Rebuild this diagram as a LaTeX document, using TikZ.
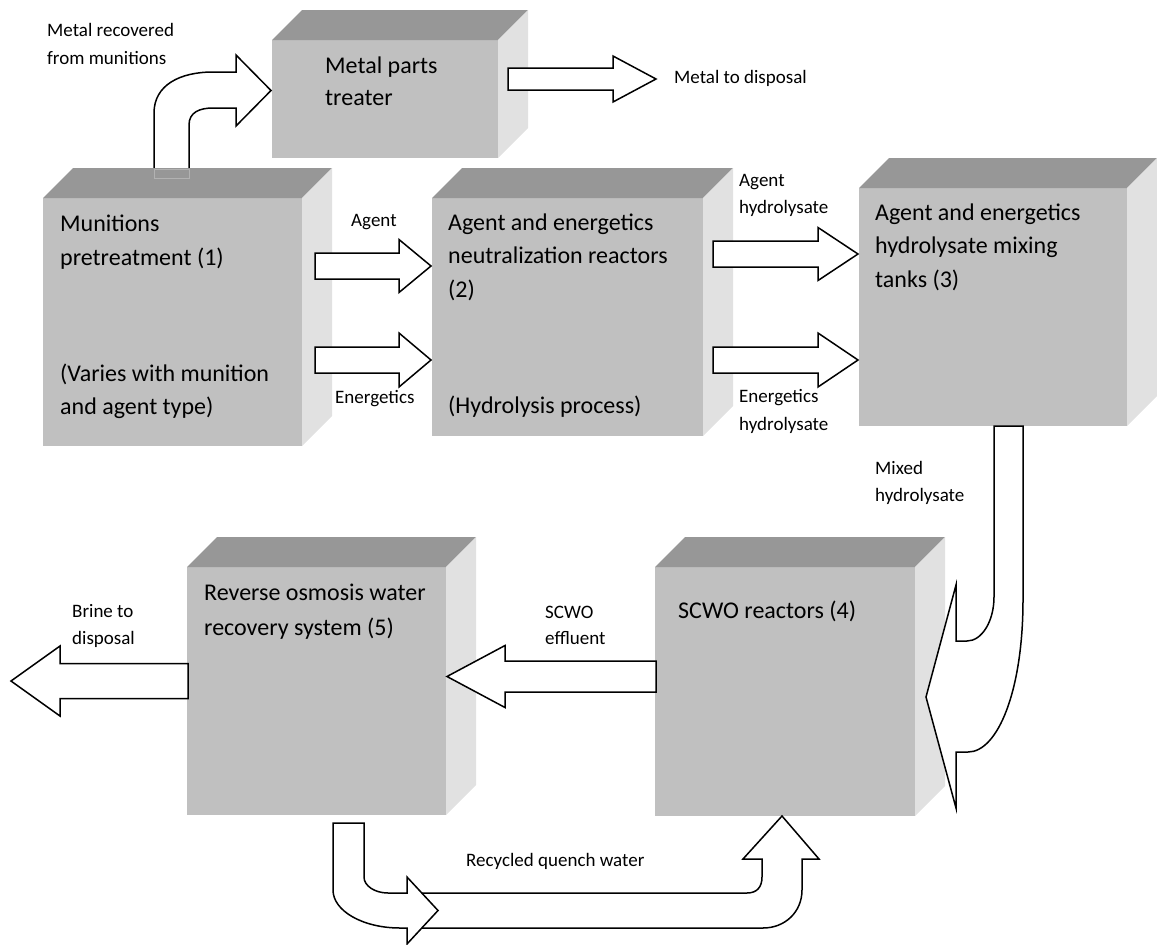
\documentclass[tikz,border=0pt]{standalone}
\usepackage{fontspec}
\setmainfont{Carlito}
\definecolor{frontgray}{HTML}{C0C0C0}
\definecolor{topgray}{HTML}{979797}
\definecolor{sidegray}{HTML}{E1E1E1}
\tikzset{
  front/.style={fill=frontgray, inner sep=0pt, outer sep=0pt, anchor=north west},
  topface/.style={fill=topgray},
  sideface/.style={fill=sidegray},
  barrow/.style={draw=black, fill=white, line width=1.5pt, line join=miter},
  lbl/.style={font=\fontsize{19}{23}\selectfont, anchor=west, inner sep=0pt, text height=13pt, text depth=5pt},
  boxtxt/.style={font=\fontsize{24}{30}\selectfont, anchor=west, inner sep=0pt, text height=17pt, text depth=6pt}
}
\newcommand\cubefaces[1]{%
  \fill[topface] (#1.north west) -- ++(30,-30) -- ([shift={(30,-30)}]#1.north east) -- (#1.north east) -- cycle;
  \fill[sideface] (#1.north east) -- ++(30,-30) -- ([shift={(30,-30)}]#1.south east) -- (#1.south east) -- cycle;
}
\newcommand\blockarrow[6]{% xs, xb, xt, yc, half shaft, half head
  \draw[barrow] (#1,#4-#5) -- (#2,#4-#5) -- (#2,#4-#6) -- (#3,#4) -- (#2,#4+#6) -- (#2,#4+#5) -- (#1,#4+#5) -- cycle;
}
\begin{document}
\begin{tikzpicture}[x=1pt,y=-1pt]
\useasboundingbox (0,0) rectangle (1157,945);

% Metal parts treater
\node[front, minimum width=226pt, minimum height=118pt] (b0) at (272,40) {};
\cubefaces{b0}

% bent arrow: metal recovered from munitions
\draw[barrow] (154,180) -- (154,113) .. controls (154,85) and (180,72) .. (213,72) -- (236,72) -- (236,55) -- (271,90.5) -- (236,126) -- (236,108) -- (213,108) .. controls (200,108) and (189,112) .. (189,125) -- (189,180) -- cycle;

% Munitions pretreatment
\node[front, minimum width=259pt, minimum height=248pt] (b1) at (43,198) {};
\cubefaces{b1}
\draw[gray!60, line width=0.6pt] (154,169) rectangle (189,178);

% Neutralization reactors
\node[front, minimum width=271pt, minimum height=238pt] (b2) at (432,198) {};
\cubefaces{b2}

% Mixing tanks
\node[front, minimum width=268pt, minimum height=238pt] (b3) at (859,188) {};
\cubefaces{b3}

% SCWO reactors
\node[front, minimum width=260pt, minimum height=249pt] (b4) at (655,567) {};
\cubefaces{b4}

% Reverse osmosis
\node[front, minimum width=259pt, minimum height=248pt] (b5) at (187,567) {};
\cubefaces{b5}

% box texts
\node[boxtxt] (t0a) at (325,68) {Metal parts};
\node[boxtxt] (t0b) at (325,100) {treater};
\node[boxtxt] (t1a) at (60,226) {Munitions};
\node[boxtxt] (t1b) at (60,260) {pretreatment (1)};
\node[boxtxt] (t1c) at (60,376) {(Varies with munition};
\node[boxtxt] (t1d) at (60,409) {and agent type)};
\node[boxtxt] (t2a) at (448,225) {Agent and energetics};
\node[boxtxt] (t2b) at (448,258) {neutralization reactors};
\node[boxtxt] (t2c) at (448,292) {(2)};
\node[boxtxt] (t2d) at (448,408) {(Hydrolysis process)};
\node[boxtxt] (t3a) at (875,215) {Agent and energetics};
\node[boxtxt] (t3b) at (875,248) {hydrolysate mixing};
\node[boxtxt] (t3c) at (875,282) {tanks (3)};
\node[boxtxt] (t4a) at (678,613) {SCWO reactors (4)};
\node[boxtxt] (t5a) at (204,595) {Reverse osmosis water};
\node[boxtxt] (t5b) at (204,630) {recovery system (5)};

% straight block arrows
\blockarrow{508}{613}{656}{79}{11}{23}
\blockarrow{315}{399}{431}{266}{13}{26.5}
\blockarrow{315}{399}{431}{360}{13}{27}
\blockarrow{713}{818}{858}{254}{13}{26.5}
\blockarrow{713}{818}{858}{360}{13}{27}
\blockarrow{656}{505}{447}{676.5}{15.5}{31}
\blockarrow{188}{60}{11}{681}{17.5}{35}

% mixed hydrolysate bent arrow
\draw[barrow] (994,426) -- (994,597) .. controls (994,621) and (982,641) .. (967,641) -- (956,641) -- (956,585) -- (926,697) -- (956,808) -- (956,752) -- (968,752) .. controls (998,752) and (1023,690) .. (1023,600) -- (1023,426) -- cycle;

% recycled quench water U arrow (right then up)
\fill[white] (415,893) -- (747,893) .. controls (757,893) and (762,887) .. (762,877) -- (762,859) -- (743,859) -- (782,816) -- (819,859) -- (802,859) -- (802,890) .. controls (802,912) and (785,928) .. (763,928) -- (415,928) -- cycle;
\draw[barrow, fill=none] (415,893) -- (747,893) .. controls (757,893) and (762,887) .. (762,877) -- (762,859) -- (743,859) -- (782,816) -- (819,859) -- (802,859) -- (802,890) .. controls (802,912) and (785,928) .. (763,928) -- (415,928);

% down then right arrow from reverse osmosis
\draw[barrow] (333,823) -- (364,823) -- (364,877) .. controls (364,886) and (375,893) .. (388,893) -- (407,893) -- (407,877) -- (438,910.5) -- (407,944) -- (407,928) -- (400,928) .. controls (363,928) and (333,911) .. (333,890) -- cycle;

% labels
\node[lbl] (l1) at (47,32) {Metal recovered};
\node[lbl] (l2) at (47,60) {from munitions};
\node[lbl] (l3) at (674,79) {Metal to disposal};
\node[lbl] (l4) at (351,222) {Agent};
\node[lbl] (l5) at (335,399) {Energetics};
\node[lbl] (l6) at (739,182) {Agent};
\node[lbl] (l7) at (739,209) {hydrolysate};
\node[lbl] (l8) at (739,398) {Energetics};
\node[lbl] (l9) at (739,426) {hydrolysate};
\node[lbl] (l10) at (875,470) {Mixed};
\node[lbl] (l11) at (875,497) {hydrolysate};
\node[lbl] (l12) at (545,614) {SCWO};
\node[lbl] (l13) at (545,640) {effluent};
\node[lbl] (l14) at (72,613) {Brine to};
\node[lbl] (l15) at (72,640) {disposal};
\node[lbl] (l16) at (466,862) {Recycled quench water};
\end{tikzpicture}
\end{document}
